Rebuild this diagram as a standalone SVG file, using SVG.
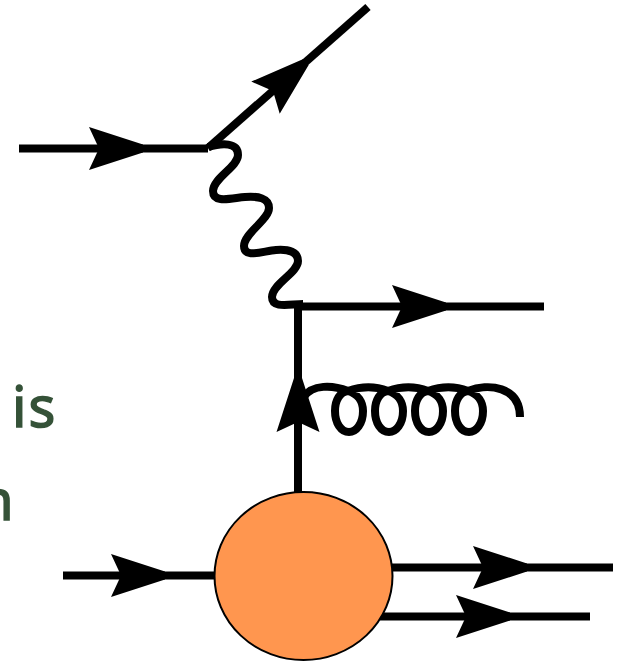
<svg xmlns="http://www.w3.org/2000/svg" xmlns:xlink="http://www.w3.org/1999/xlink" width="620" height="662" viewBox="0 0 620 662">
<style>
.l{fill:none;stroke:#000;stroke-width:8}
.t{font-family:"Noto Sans","Open Sans",sans-serif;font-size:56px;fill:#355238;stroke:#355238;stroke-width:1.5}
</style>
<defs><path id="a" d="M0 -4L-54 -21.500L-44 0L-54 21.500L0 4Z" fill="#000"/></defs>
<rect width="620" height="662" fill="#fff"/>
<g id="labels">
<text class="t" x="12" y="427" letter-spacing="2">is</text>
<text class="t" x="-21" y="520">n</text>
</g>
<g id="connectors">
<path class="l" d="M19 148.500H208"/>
<path class="l" d="M208 148L368 7"/>
<path class="l" d="M208 147C222 143 238 142 238 155C238 167 213 178 213 191C213 204 232 198 245 197C258 196 269 198 269 208C269 220 244 233 244 246C244 259 263 251 276 250C289 249 298 252 298 261C298 273 272 284 272 297C272 309 290 304 303 304"/>
<path class="l" d="M298 306.500H544"/>
<path class="l" d="M298 306V492"/>
<path class="l" d="M63 575.500H215"/>
<path class="l" d="M392 567.500H613"/>
<path class="l" d="M380 616.500H590"/>
<path class="l" d="M304 397C312 384 333 385 348 391C358 394 363 402 363 411C363 424 356 432 349 432C341 432 335 423 335 411C335 400 340 392 348 391C362 386 375 386 388 391C398 394 403 402 403 411C403 424 396 432 389 432C381 432 375 423 375 411C375 400 380 392 388 391C402 386 415 386 428 391C438 394 443 402 443 411C443 424 436 432 429 432C421 432 415 423 415 411C415 400 420 392 428 391C442 386 455 386 468 391C478 394 483 402 483 411C483 424 476 432 469 432C461 432 455 423 455 411C455 400 460 392 468 391C488 383 520 386 520 417"/>
<use xlink:href="#a" href="#a" transform="translate(143 148.500)"/>
<use xlink:href="#a" href="#a" transform="translate(306 62) rotate(-41.400)"/>
<use xlink:href="#a" href="#a" transform="translate(446 306.500)"/>
<use xlink:href="#a" href="#a" transform="translate(298 378) rotate(-90)"/>
<use xlink:href="#a" href="#a" transform="translate(165 575.500)"/>
<use xlink:href="#a" href="#a" transform="translate(527 567.500)"/>
<use xlink:href="#a" href="#a" transform="translate(510 616.500)"/>
</g>
<g id="blob"><ellipse cx="303.500" cy="576" rx="89" ry="84" fill="#ff964f" stroke="#000" stroke-width="2"/></g>
</svg>
